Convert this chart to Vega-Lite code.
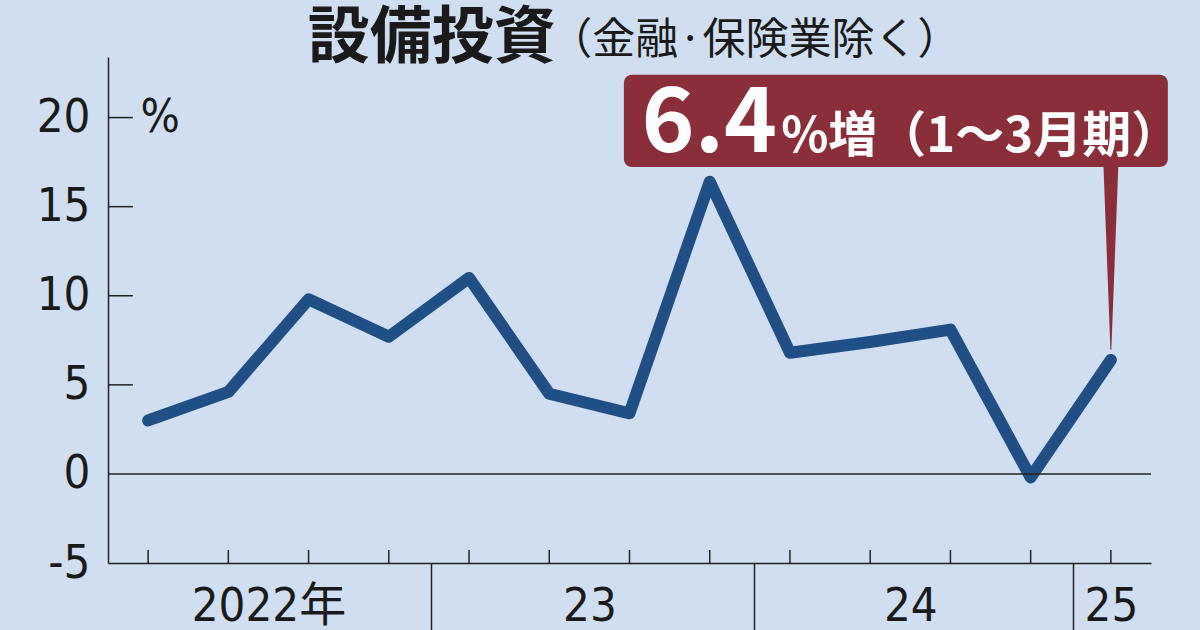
{
  "$schema": "https://vega.github.io/schema/vega-lite/v6.json",
  "width": 1043,
  "height": 506,
  "autosize": {"type": "none"},
  "padding": {"left": 108, "top": 57, "right": 49, "bottom": 67},
  "background": "#cfdff1",
  "config": {"view": {"stroke": null}},
  "datasets": {
    "capex": [
      {"q": 0, "period": "2022 1-3", "v": 3.0},
      {"q": 1, "period": "2022 4-6", "v": 4.6},
      {"q": 2, "period": "2022 7-9", "v": 9.8},
      {"q": 3, "period": "2022 10-12", "v": 7.7},
      {"q": 4, "period": "2023 1-3", "v": 11.0},
      {"q": 5, "period": "2023 4-6", "v": 4.5},
      {"q": 6, "period": "2023 7-9", "v": 3.4},
      {"q": 7, "period": "2023 10-12", "v": 16.4},
      {"q": 8, "period": "2024 1-3", "v": 6.8},
      {"q": 9, "period": "2024 4-6", "v": 7.4},
      {"q": 10, "period": "2024 7-9", "v": 8.1},
      {"q": 11, "period": "2024 10-12", "v": -0.2},
      {"q": 12, "period": "2025 1-3", "v": 6.4}
    ],
    "yticks": [{"t": 5}, {"t": 10}, {"t": 15}, {"t": 20}],
    "pointer": [{"q": 12, "v": 17.4}, {"q": 12, "v": 7.0}],
    "one": [{"k": 1}]
  },
  "layer": [
    {
      "data": {"name": "capex"},
      "mark": {"type": "line", "color": "#204f86", "strokeWidth": 12, "strokeCap": "round", "strokeJoin": "round"},
      "encoding": {
        "x": {
          "field": "q", "type": "quantitative",
          "scale": {"domain": [-0.5, 12.5], "nice": false, "zero": false},
          "axis": {
            "title": null,
            "values": [1.5, 3.53, 5.5, 7.55, 9.5, 11.53, 12],
            "labelExpr": "datum.value == 1.5 ? '2022年' : datum.value == 5.5 ? '23' : datum.value == 9.5 ? '24' : datum.value == 12 ? '25' : ''",
            "domainColor": "#222222", "domainWidth": 1.5,
            "ticks": true,
            "tickColor": "#222222", "tickWidth": 1.5, "tickSize": 67,
            "tickOpacity": {"condition": {"test": "datum.value == 3.53 || datum.value == 7.55 || datum.value == 11.53", "value": 1}, "value": 0},
            "labelFont": "Liberation Sans Narrow, DejaVu Sans Condensed, Noto Sans CJK JP, sans-serif",
            "labelFontSize": 47, "labelColor": "#1a1a1a",
            "labelBaseline": "bottom", "labelPadding": 0,
            "labelAlign": "center", "labelFlush": false, "labelOverlap": false,
            "grid": false
          }
        },
        "y": {
          "field": "v", "type": "quantitative",
          "scale": {"domain": [-5, 23.4], "nice": false, "zero": false},
          "axis": {
            "title": null,
            "values": [-5, 0, 5, 10, 15, 20],
            "labelExpr": "datum.value < 0 ? '-' + (-datum.value) : datum.label",
            "ticks": false,
            "domainColor": "#222222", "domainWidth": 1.5,
            "labelFont": "Liberation Sans Narrow, DejaVu Sans Condensed, sans-serif",
            "labelFontSize": 47, "labelColor": "#1a1a1a",
            "labelPadding": 18, "labelBaseline": "middle",
            "labelFlush": false, "labelOverlap": false, "grid": false
          }
        }
      }
    },
    {
      "data": {"name": "one"},
      "mark": {"type": "rule", "color": "#222222", "strokeWidth": 1.5},
      "encoding": {"y": {"datum": 0, "type": "quantitative"}}
    },
    {
      "data": {"name": "capex"},
      "mark": {"type": "rule", "color": "#222222", "strokeWidth": 1.5},
      "encoding": {
        "x": {"field": "q", "type": "quantitative"},
        "y": {"datum": -5, "type": "quantitative"},
        "y2": {"datum": -4.27}
      }
    },
    {
      "data": {"name": "yticks"},
      "mark": {"type": "rule", "color": "#222222", "strokeWidth": 1.5},
      "encoding": {
        "y": {"field": "t", "type": "quantitative"},
        "x": {"datum": -0.5, "type": "quantitative"},
        "x2": {"datum": -0.19}
      }
    },
    {
      "data": {"name": "one"},
      "mark": {"type": "rect", "color": "#8a2f39", "cornerRadius": 8},
      "encoding": {
        "x": {"datum": 5.93, "type": "quantitative"},
        "x2": {"datum": 12.71},
        "y": {"datum": 22.4, "type": "quantitative"},
        "y2": {"datum": 17.22}
      }
    },
    {
      "data": {"name": "pointer"},
      "mark": {"type": "trail", "color": "#8a2f39"},
      "encoding": {
        "x": {"field": "q", "type": "quantitative"},
        "y": {"field": "v", "type": "quantitative"},
        "size": {"field": "v", "type": "quantitative", "scale": {"domain": [7.0, 17.4], "range": [1, 15]}, "legend": null}
      }
    },
    {
      "data": {"name": "one"},
      "mark": {"type": "text", "text": "6.4", "font": "Noto Sans CJK JP", "fontWeight": "bold", "fontSize": 90, "color": "#ffffff", "align": "left", "baseline": "alphabetic"},
      "encoding": {
        "x": {"datum": 6.15, "type": "quantitative"},
        "y": {"datum": 18.07, "type": "quantitative"}
      }
    },
    {
      "data": {"name": "one"},
      "mark": {"type": "text", "text": "%増（1～3月期）", "font": "Noto Sans CJK JP", "fontWeight": "bold", "fontSize": 49, "color": "#ffffff", "align": "left", "baseline": "alphabetic"},
      "encoding": {
        "x": {"datum": 7.89, "type": "quantitative"},
        "y": {"datum": 18.07, "type": "quantitative"}
      }
    },
    {
      "data": {"name": "one"},
      "mark": {"type": "text", "text": "設備投資", "font": "Noto Sans CJK JP", "fontWeight": "bold", "fontSize": 62, "color": "#1a1a1a", "align": "right", "baseline": "middle"},
      "encoding": {
        "x": {"datum": 5.08, "type": "quantitative"},
        "y": {"datum": 24.4, "type": "quantitative"}
      }
    },
    {
      "data": {"name": "one"},
      "mark": {"type": "text", "text": "（金融·保険業除く）", "font": "Noto Sans CJK JP", "fontWeight": "normal", "fontSize": 43, "color": "#1a1a1a", "align": "left", "baseline": "middle"},
      "encoding": {
        "x": {"datum": 5.0, "type": "quantitative"},
        "y": {"datum": 24.3, "type": "quantitative"}
      }
    },
    {
      "data": {"name": "one"},
      "mark": {"type": "text", "text": "%", "font": "Liberation Sans Narrow, DejaVu Sans Condensed, sans-serif", "fontSize": 46, "color": "#1a1a1a", "align": "center", "baseline": "middle"},
      "encoding": {
        "x": {"datum": 0.15, "type": "quantitative"},
        "y": {"datum": 20, "type": "quantitative"}
      }
    }
  ]
}
